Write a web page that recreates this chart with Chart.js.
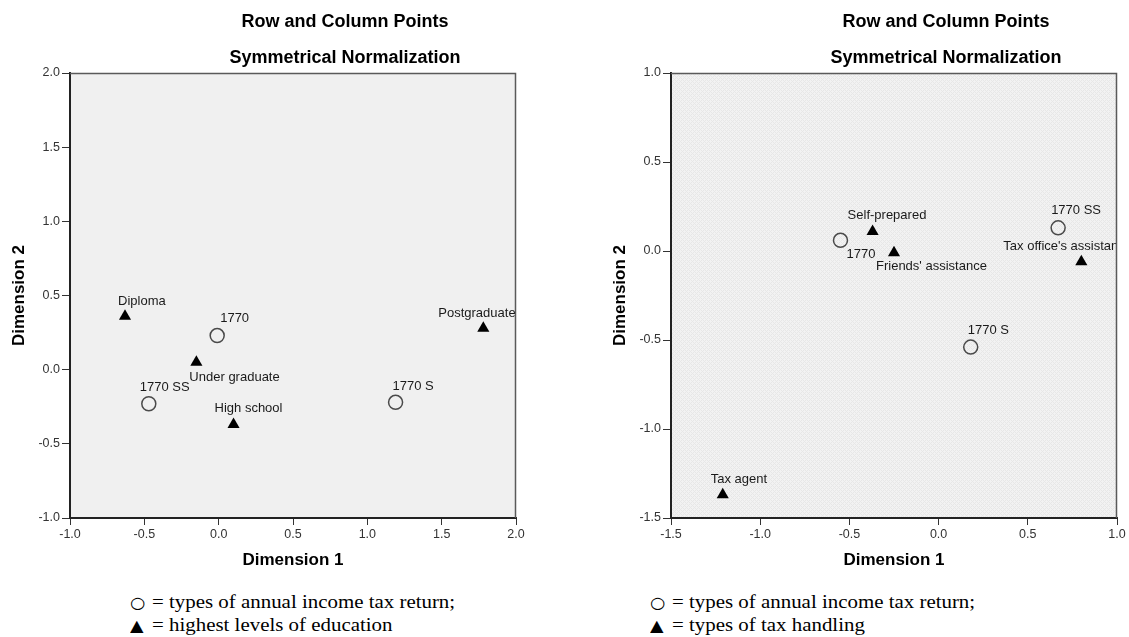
<!DOCTYPE html>
<html>
<head>
<meta charset="utf-8">
<script src="https://cdn.jsdelivr.net/npm/chart.js@4.4.1/dist/chart.umd.min.js"></script>
<style>
  html, body { margin: 0; padding: 0; background: #fff; overflow: hidden; }
  #wrap { position: relative; width: 1129px; height: 637px; }
  #wrap canvas { position: absolute; top: 0; }
  #cLeft { left: 0; }
  #cRight { left: 601px; }
  .key {
    position: absolute; white-space: nowrap; color: #000;
    font-family: "Liberation Serif", "Times New Roman", serif;
    font-size: 19px; line-height: 23px;
    transform: scaleX(1.1); transform-origin: 0 50%;
  }
  .sym { display: inline-block; width: 20px; font-family: "DejaVu Sans", sans-serif; font-size: 16px; vertical-align: 0px; }
</style>
</head>
<body>
<div id="wrap">
  <canvas id="cLeft" width="560" height="580"></canvas>
  <canvas id="cRight" width="528" height="580"></canvas>
  <div class="key" style="left:130px; top:590px;"><span class="sym">○</span>= types of annual income tax return;</div>
  <div class="key" style="left:130px; top:613px;"><span class="sym">▲</span>= highest levels of education</div>
  <div class="key" style="left:650px; top:590px;"><span class="sym">○</span>= types of annual income tax return;</div>
  <div class="key" style="left:650px; top:613px;"><span class="sym">▲</span>= types of tax handling</div>
</div>
<script>
// ---- Left plot: tax return type vs. highest level of education ----
const eduRowNames = ['1770', '1770 SS', '1770 S'];
const eduRowDim1  = [-0.01, -0.47, 1.19];
const eduRowDim2  = [0.23, -0.23, -0.22];
const eduColNames = ['Diploma', 'Under graduate', 'High school', 'Postgraduate'];
const eduColDim1  = [-0.63, -0.15, 0.10, 1.78];
const eduColDim2  = [0.36, 0.05, -0.37, 0.28];
const eduXTicks   = [-1.0, -0.5, 0.0, 0.5, 1.0, 1.5, 2.0];
const eduYTicks   = [-1.0, -0.5, 0.0, 0.5, 1.0, 1.5, 2.0];

// ---- Right plot: tax return type vs. type of tax handling ----
const taxRowNames = ['1770', '1770 SS', '1770 S'];
const taxRowDim1  = [-0.55, 0.67, 0.18];
const taxRowDim2  = [0.06, 0.13, -0.54];
const taxColNames = ['Self-prepared', "Friends' assistance", "Tax office's assistance", 'Tax agent'];
const taxColDim1  = [-0.37, -0.25, 0.80, -1.21];
const taxColDim2  = [0.11, -0.01, -0.06, -1.37];
const taxXTicks   = [-1.5, -1.0, -0.5, 0.0, 0.5, 1.0];
const taxYTicks   = [-1.5, -1.0, -0.5, 0.0, 0.5, 1.0];

// label placement next to each marker, [dx, dy] in pixels
const eduRowLabelAt = [[3, -17], [-9, -16], [-3, -16]];
const eduColLabelAt = [[-7, -15], [-7, 15], [-19, -16], [-45, -15]];
const taxRowLabelAt = [[6, 14], [-7, -17], [-3, -17]];
const taxColLabelAt = [[-25, -16], [-18, 14], [-78, -15], [-12, -15]];

Chart.defaults.font.family = '"Liberation Sans", Arial, sans-serif';
Chart.defaults.color = '#222';

function toPoints(xs, ys) { return xs.map((x, i) => ({ x: x, y: ys[i] })); }

// fine woven texture used for the right panel background
function wovenPattern(ctx) {
  const c = document.createElement('canvas');
  c.width = 4; c.height = 4;
  const g = c.getContext('2d');
  g.fillStyle = '#f2f2f2'; g.fillRect(0, 0, 4, 4);
  g.fillStyle = '#e7e7e7';
  for (let y = 0; y < 4; y++) for (let x = 0; x < 4; x++) {
    if ((x + y) % 4 === 0 || ((x - y) + 4) % 4 === 2) g.fillRect(x, y, 1, 1);
  }
  return ctx.createPattern(c, 'repeat');
}

const panelPlugin = {
  id: 'panel',
  beforeDraw(chart) {
    const { ctx, chartArea: a } = chart;
    const o = chart.options.plugins.panel;
    ctx.save();
    ctx.fillStyle = o.woven ? wovenPattern(ctx) : o.fill;
    ctx.fillRect(a.left, a.top, a.right - a.left, a.bottom - a.top);
    ctx.restore();
  },
  afterDraw(chart) {
    const { ctx, chartArea: a } = chart;
    const o = chart.options.plugins.panel;
    ctx.save();
    // top and right edges of the plot frame
    ctx.strokeStyle = '#5a5a5a';
    ctx.lineWidth = 1.5;
    ctx.beginPath();
    ctx.moveTo(a.left, a.top + 0.5);
    ctx.lineTo(a.right - 0.5, a.top + 0.5);
    ctx.lineTo(a.right - 0.5, a.bottom);
    ctx.stroke();
    // two-line heading
    ctx.fillStyle = '#000';
    ctx.font = 'bold 18px "Liberation Sans", Arial, sans-serif';
    ctx.textAlign = 'center';
    ctx.textBaseline = 'middle';
    const cx = a.left + 275;
    ctx.fillText(o.title[0], cx, 22);
    ctx.fillText(o.title[1], cx, 58.5);
    ctx.restore();
  }
};

const pointLabelPlugin = {
  id: 'pointLabels',
  afterDatasetsDraw(chart) {
    const { ctx, chartArea: a } = chart;
    ctx.save();
    ctx.beginPath();
    ctx.rect(a.left, a.top, a.right - a.left, a.bottom - a.top);
    ctx.clip();
    ctx.fillStyle = '#1a1a1a';
    ctx.font = '13px "Liberation Sans", Arial, sans-serif';
    ctx.textAlign = 'left';
    ctx.textBaseline = 'middle';
    chart.data.datasets.forEach((ds, i) => {
      const meta = chart.getDatasetMeta(i);
      meta.data.forEach((pt, j) => {
        const off = ds.labelAt[j];
        ctx.fillText(ds.names[j], pt.x + off[0], pt.y + off[1]);
      });
    });
    ctx.restore();
  }
};

function axis(ticksArr, titleText, horizontal) {
  const cfg = {
    type: 'linear',
    min: ticksArr[0],
    max: ticksArr[ticksArr.length - 1],
    afterBuildTicks: s => { s.ticks = ticksArr.map(v => ({ value: v })); },
    ticks: {
      callback: v => Number(v).toFixed(1),
      font: { size: 12.5 },
      color: '#333',
      padding: 2,
      maxRotation: 0,
      autoSkip: false
    },
    grid: { drawOnChartArea: false, drawTicks: true, tickLength: horizontal ? 7 : 8, color: '#333', lineWidth: 1 },
    border: { display: true, color: '#222', width: 2 },
    title: {
      display: true,
      text: titleText,
      color: '#000',
      font: { size: 17, weight: 'bold' },
      padding: horizontal ? { top: 0, bottom: 9 } : { top: 9, bottom: 0 }
    }
  };
  if (horizontal) cfg.afterFit = s => { s.height = 62; };
  else cfg.afterFit = s => { s.width = 70; };
  return cfg;
}

function buildPlot(canvasId, rows, cols, xT, yT, bg) {
  const canvas = document.getElementById(canvasId);
  return new Chart(canvas, {
    type: 'scatter',
    data: {
      datasets: [
        {
          data: toPoints(rows.d1, rows.d2),
          names: rows.names, labelAt: rows.at,
          pointStyle: 'circle', pointRadius: 7, pointHoverRadius: 7,
          backgroundColor: 'rgba(0,0,0,0)', borderColor: '#4a4a4a', borderWidth: 1.5
        },
        {
          data: toPoints(cols.d1, cols.d2),
          names: cols.names, labelAt: cols.at,
          pointStyle: 'triangle', pointRadius: 7, pointHoverRadius: 7,
          backgroundColor: '#000', borderColor: '#000', borderWidth: 0
        }
      ]
    },
    options: {
      responsive: false,
      animation: false,
      events: [],
      layout: { padding: { left: 0, top: 73, right: canvas.width - 70 - 446, bottom: 0 } },
      scales: {
        x: axis(xT, 'Dimension 1', true),
        y: axis(yT, 'Dimension 2', false)
      },
      plugins: {
        legend: { display: false },
        tooltip: { enabled: false },
        panel: Object.assign({ title: ['Row and Column Points', 'Symmetrical Normalization'] }, bg)
      }
    },
    plugins: [panelPlugin, pointLabelPlugin]
  });
}

buildPlot('cLeft',
  { names: eduRowNames, d1: eduRowDim1, d2: eduRowDim2, at: eduRowLabelAt },
  { names: eduColNames, d1: eduColDim1, d2: eduColDim2, at: eduColLabelAt },
  eduXTicks, eduYTicks, { fill: '#f0f0f0', woven: false });

buildPlot('cRight',
  { names: taxRowNames, d1: taxRowDim1, d2: taxRowDim2, at: taxRowLabelAt },
  { names: taxColNames, d1: taxColDim1, d2: taxColDim2, at: taxColLabelAt },
  taxXTicks, taxYTicks, { fill: '#ededed', woven: true });
</script>
</body>
</html>
